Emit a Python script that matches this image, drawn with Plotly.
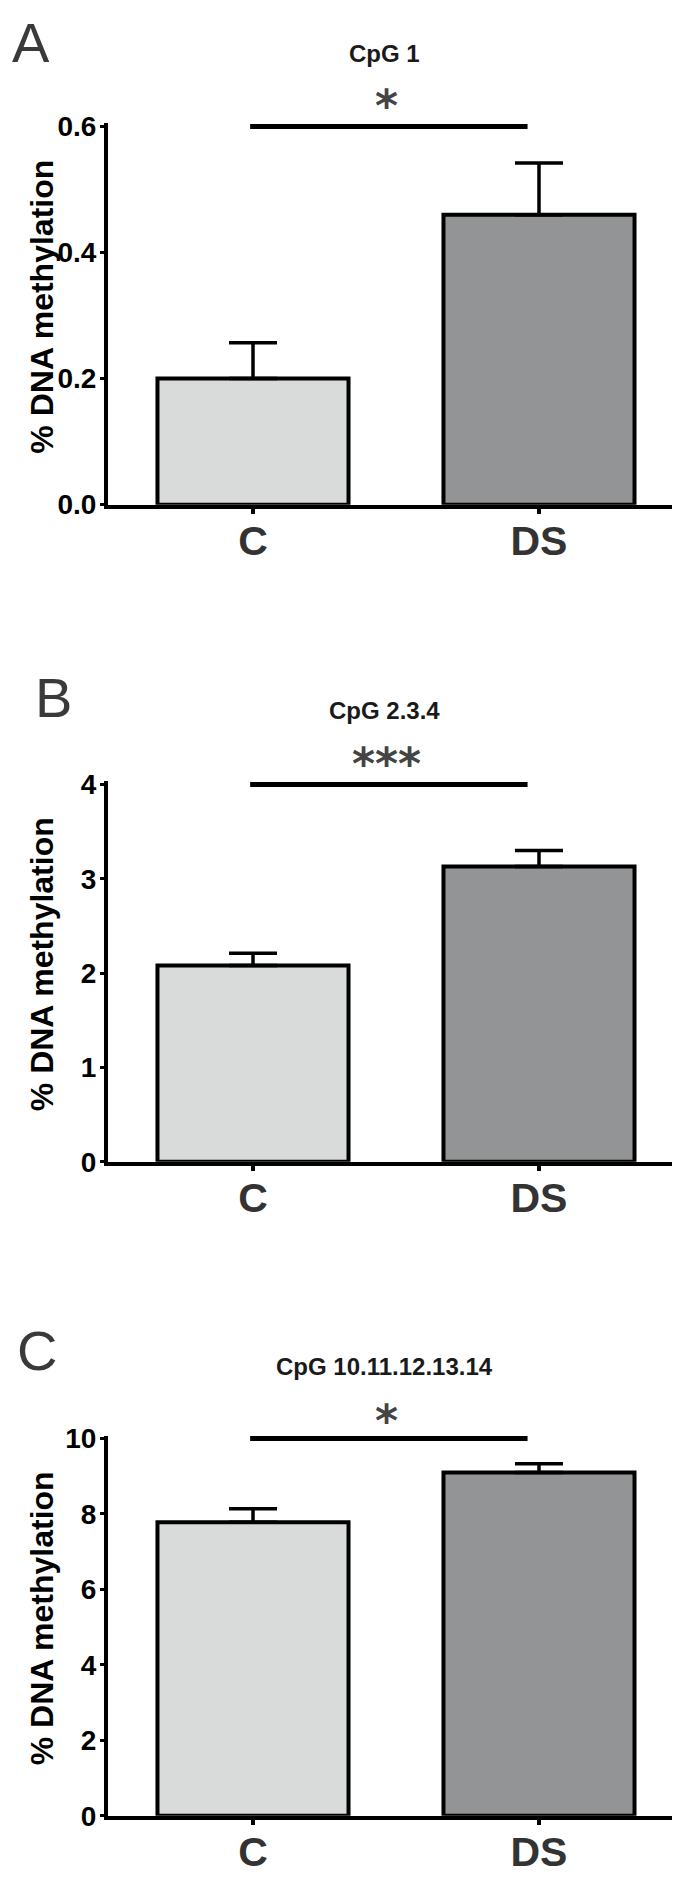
import plotly.graph_objects as go

# ---------------- data ----------------
groups = ["C", "DS"]
panel_letters = ["A", "B", "C"]
panel_titles = ["CpG 1", "CpG 2.3.4", "CpG 10.11.12.13.14"]
means_A = [0.20, 0.46]
sem_A = [0.057, 0.082]
means_B = [2.08, 3.13]
sem_B = [0.13, 0.17]
means_C = [7.78, 9.10]
sem_C = [0.36, 0.23]
y_max = [0.6, 4, 10]
y_dtick = [0.2, 1, 2]
y_tickformat = [".1f", "d", "d"]
sig_labels = ["*", "***", "*"]

means = [means_A, means_B, means_C]
sems = [sem_A, sem_B, sem_C]

W, H = 680, 1877
fill_colors = ["#d9dada", "#939495"]

# pixel geometry of each panel (top, bottom of plot area)
panel_px = [(108, 492), (776, 1159), (1440, 1823)]
pad_px = 3  # small headroom so the significance bar at the top value is not clipped
x_left_px, x_right_px = 100, 676
letter_px = [(2, 23), (25, 688), (7, 1351)]
title_y_px = [34, 701, 1367]
star_y_px = [87, 755, 1422]

fig = go.Figure()
layout = dict(width=W, height=H, margin=dict(l=0, r=0, t=0, b=0),
              paper_bgcolor="white", plot_bgcolor="white", showlegend=False)
annotations = []

xs = list(range(len(groups)))
for i in range(3):
    ax = "" if i == 0 else str(i + 1)
    top, bot = panel_px[i]
    ydom = [1 - bot / H, 1 - (top - pad_px) / H]
    yr_top = y_max[i] * (1 + pad_px / (bot - top))
    xdom = [x_left_px / W, x_right_px / W]
    fig.add_trace(go.Bar(
        x=xs, y=means[i], width=0.668,
        marker=dict(color=fill_colors, line=dict(color="black", width=4)),
        error_y=dict(type="data", array=sems[i], arrayminus=[0, 0], symmetric=False,
                     color="black", thickness=3.5, width=24),
        xaxis="x" + ax, yaxis="y" + ax,
    ))
    # significance bar
    fig.add_trace(go.Scatter(
        x=[xs[0] - 0.01, xs[1] - 0.04], y=[y_max[i], y_max[i]], mode="lines",
        line=dict(color="black", width=5), cliponaxis=False,
        xaxis="x" + ax, yaxis="y" + ax, hoverinfo="skip",
    ))
    layout["xaxis" + ax] = dict(
        domain=xdom, range=[-0.507, 1.507], anchor="y" + ax,
        tickmode="array", tickvals=xs, ticktext=groups,
        showline=True, linecolor="black", linewidth=4,
        ticks="outside", ticklen=5, tickwidth=4, tickcolor="black",
        ticklabelstandoff=-8,
        tickfont=dict(family="Liberation Sans", size=41, color="#333333", weight="bold"),
        showgrid=False, zeroline=False, fixedrange=True,
    )
    layout["yaxis" + ax] = dict(
        domain=ydom, range=[0, yr_top], anchor="x" + ax,
        tickmode="array", tickvals=[k * y_dtick[i] for k in range(int(round(y_max[i] / y_dtick[i])) + 1)],
        tickformat=y_tickformat[i],
        showline=True, linecolor="black", linewidth=4,
        ticks="outside", ticklen=4, tickwidth=3, tickcolor="black",
        ticklabelstandoff=-2,
        tickfont=dict(family="Liberation Sans", size=28, color="black", weight="bold"),
        showgrid=False, zeroline=False, fixedrange=True,
    )
    # panel letter
    lx, ly = letter_px[i]
    annotations.append(dict(
        text=panel_letters[i], xref="paper", yref="paper", x=lx / W, y=1 - ly / H,
        xanchor="left", yanchor="middle", showarrow=False,
        font=dict(family="Liberation Sans", size=56, color="#3a3a3a"),
    ))
    # title
    annotations.append(dict(
        text=panel_titles[i], xref="paper", yref="paper", x=376 / W, y=1 - title_y_px[i] / H,
        xanchor="center", yanchor="middle", showarrow=False,
        font=dict(family="Liberation Sans", size=24, color="#1a1a1a", weight="bold"),
    ))
    # significance star(s)
    annotations.append(dict(
        text=sig_labels[i], xref="paper", yref="paper", x=378 / W, y=1 - star_y_px[i] / H,
        xanchor="center", yanchor="middle", showarrow=False,
        font=dict(family="DejaVu Sans", size=44, color="#444444", weight="bold"),
    ))
    # y-axis title
    annotations.append(dict(
        text="% DNA methylation", xref="paper", yref="paper", x=34 / W,
        y=1 - ((top + bot) / 2 - 9) / H, textangle=-90,
        xanchor="center", yanchor="middle", showarrow=False,
        font=dict(family="Liberation Sans", size=32, color="black", weight="bold"),
    ))

layout["annotations"] = annotations
fig.update_layout(**layout)
fig.write_html("out.html")
